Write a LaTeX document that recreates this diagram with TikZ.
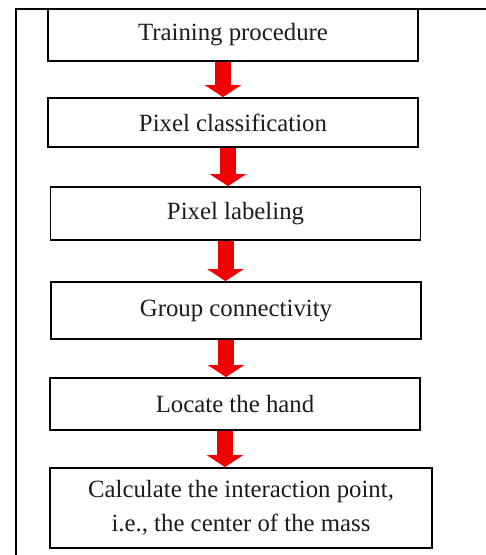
\documentclass[tikz,border=0pt]{standalone}
\usepackage{fontspec}
\setmainfont{Liberation Serif}
\usetikzlibrary{arrows.meta,backgrounds}
\definecolor{StepRed}{HTML}{F00000}
\definecolor{InkGray}{HTML}{1C1C1C}

\begin{document}
\begin{tikzpicture}[x=1pt, y=1pt,
  box/.style={draw=black, line width=1.8pt, fill=white, minimum width=370pt, minimum height=52pt, inner sep=0pt, align=center, text=InkGray, font=\fontsize{24.8}{34}\selectfont},
  arr/.style={-{Triangle[width=36pt,length=12pt]}, line width=16pt, StepRed}
]
\useasboundingbox (0,0) rectangle (486,555);
\node[box] (train) at (233,520) {Training procedure};
\node[box, minimum height=49pt] (classify) at (233,432.5) {Pixel classification};
\node[box, minimum height=53pt] (label) at (235.5,341.5) {Pixel labeling};
\node[box, minimum height=57pt] (group) at (236,244.5) {Group connectivity};
\node[box] (locate) at (235,151) {Locate the hand};
\node[box, minimum width=382pt, minimum height=80pt] (center) at (241,47) {Calculate the interaction point,\\i.e., the center of the mass};
\begin{scope}[on background layer]
\draw[line width=1.8pt] (16,0) -- (16,546) -- (486,546);
\draw[arr] ([xshift=-10pt]train.south) -- ([xshift=-10pt]train.south |- classify.north);
\draw[arr] ([xshift=-5pt]classify.south) -- ([xshift=-5pt]classify.south |- label.north);
\draw[arr] ([xshift=-10pt]label.south) -- ([xshift=-10pt]label.south |- group.north);
\draw[arr] ([xshift=-10pt]group.south) -- ([xshift=-10pt]group.south |- locate.north);
\draw[arr] ([xshift=-10pt]locate.south) -- ([xshift=-10pt]locate.south |- center.north);
\end{scope}
\end{tikzpicture}
\end{document}
